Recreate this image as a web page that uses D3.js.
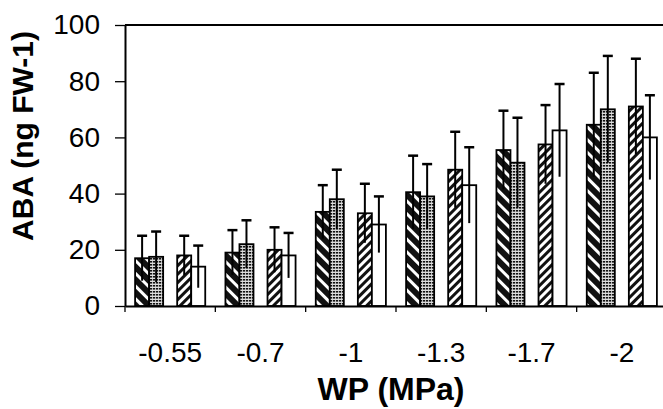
<!DOCTYPE html>
<html lang="en">
<head>
<meta charset="UTF-8">
<title>ABA vs WP</title>
<style>
  body { margin: 0; background: #fff; }
  svg { display: block; font-family: "Liberation Sans", Arial, sans-serif; }
</style>
</head>
<body>
<div id="chart"></div>
<script src="https://cdnjs.cloudflare.com/ajax/libs/d3/7.8.5/d3.min.js"></script>
<script>
  // values
  const categories = ["-0.55", "-0.7", "-1", "-1.3", "-1.7", "-2"];
  const seriesNames = ["s1", "s2", "s3", "s4"];
  const s1 = [17, 19, 33.5, 40.5, 55.5, 64.5];
  const s1Err = [8, 8, 9.5, 13, 14, 18.5];
  const s2 = [17.5, 22, 38, 39, 51, 70];
  const s2Err = [9, 8.5, 10.5, 11.5, 16, 19];
  const s3 = [18, 20, 33, 48.5, 57.5, 71];
  const s3Err = [7, 8, 10.5, 13.5, 14, 17];
  const s4 = [14, 18, 29, 43, 62.5, 60];
  const s4Err = [7.5, 8, 10, 13.5, 16.5, 15];
  const yTicks = [0, 20, 40, 60, 80, 100];

  const values = [s1, s2, s3, s4];
  const errors = [s1Err, s2Err, s3Err, s4Err];
  // slot order inside a group, with an empty slot between the two pairs
  const slots = ["s1", "s2", "gap", "s3", "s4"];

  const width = 663, height = 409;
  const plotLeft = 125, plotRight = 667, plotTop = 25, plotBottom = 306;

  const svg = d3.select('#chart')
    .append('svg')
    .attr('width', width)
    .attr('height', height);

  const defs = svg.append('defs');

  // dark bars with white "\" stripes
  const p1 = defs.append('pattern')
    .attr('id', 'pat1').attr('patternUnits', 'userSpaceOnUse')
    .attr('width', 9).attr('height', 9)
    .attr('patternTransform', 'rotate(-45)');
  p1.append('rect').attr('width', 9).attr('height', 9).attr('fill', '#111');
  p1.append('rect').attr('x', 0).attr('width', 3).attr('height', 9).attr('fill', '#fff');

  // fine dotted grey
  const p2 = defs.append('pattern')
    .attr('id', 'pat2').attr('patternUnits', 'userSpaceOnUse')
    .attr('width', 3).attr('height', 3);
  p2.append('rect').attr('width', 3).attr('height', 3).attr('fill', '#ddd');
  p2.append('rect').attr('width', 2.2).attr('height', 1.6).attr('fill', '#111');

  // black "/" hatch on white
  const p3 = defs.append('pattern')
    .attr('id', 'pat3').attr('patternUnits', 'userSpaceOnUse')
    .attr('width', 6).attr('height', 6)
    .attr('patternTransform', 'rotate(45)');
  p3.append('rect').attr('width', 6).attr('height', 6).attr('fill', '#fff');
  p3.append('rect').attr('width', 3).attr('height', 6).attr('fill', '#111');

  const fills = { s1: 'url(#pat1)', s2: 'url(#pat2)', s3: 'url(#pat3)', s4: '#fff' };

  const x0 = d3.scaleBand().domain(categories).range([plotLeft, plotRight]).padding(0);
  const x1 = d3.scaleBand().domain(slots).range([0, x0.bandwidth()]).paddingOuter(0.72);
  const y = d3.scaleLinear().domain([0, 100]).range([plotBottom, plotTop]);

  const rows = [];
  categories.forEach((c, i) => {
    seriesNames.forEach((s, j) => {
      rows.push({ cat: c, key: s, value: values[j][i], err: errors[j][i] });
    });
  });

  // frame line on top
  svg.append('line')
    .attr('x1', plotLeft).attr('x2', plotRight)
    .attr('y1', y(100)).attr('y2', y(100))
    .attr('stroke', '#000').attr('stroke-width', 2);

  const bars = svg.append('g');
  bars.selectAll('rect')
    .data(rows)
    .join('rect')
    .attr('x', d => x0(d.cat) + x1(d.key))
    .attr('y', d => y(d.value))
    .attr('width', x1.bandwidth())
    .attr('height', d => y(0) - y(d.value))
    .attr('fill', d => fills[d.key])
    .attr('stroke', '#000')
    .attr('stroke-width', 1.8);

  const errs = svg.append('g').attr('stroke', '#000');
  errs.selectAll('line.err')
    .data(rows)
    .join('line')
    .attr('class', 'err')
    .attr('x1', d => x0(d.cat) + x1(d.key) + x1.bandwidth() / 2)
    .attr('x2', d => x0(d.cat) + x1(d.key) + x1.bandwidth() / 2)
    .attr('y1', d => y(d.value - d.err))
    .attr('y2', d => y(d.value + d.err))
    .attr('stroke-width', 2);
  errs.selectAll('line.cap')
    .data(rows)
    .join('line')
    .attr('class', 'cap')
    .attr('x1', d => x0(d.cat) + x1(d.key) + x1.bandwidth() / 2 - 5)
    .attr('x2', d => x0(d.cat) + x1(d.key) + x1.bandwidth() / 2 + 5)
    .attr('y1', d => y(d.value + d.err))
    .attr('y2', d => y(d.value + d.err))
    .attr('stroke-width', 2.5);

  // y axis
  const yAxis = svg.append('g')
    .attr('transform', `translate(${plotLeft},0)`)
    .call(d3.axisLeft(y).tickValues(yTicks).tickSize(10).tickSizeOuter(0).tickPadding(15));
  yAxis.select('.domain').attr('stroke-width', 2);
  yAxis.selectAll('.tick line').attr('stroke-width', 1.3);
  yAxis.selectAll('.tick text')
    .attr('font-size', 28)
    .attr('font-family', '"Liberation Sans", Arial, sans-serif')
    .attr('fill', '#000');

  // x axis: labels at band centres, small ticks at band edges
  const xAxis = svg.append('g')
    .attr('transform', `translate(0,${plotBottom})`)
    .call(d3.axisBottom(x0).tickSize(0).tickSizeOuter(0).tickPadding(36));
  xAxis.select('.domain').attr('stroke-width', 2);
  xAxis.selectAll('.tick text')
    .attr('font-size', 28)
    .attr('font-family', '"Liberation Sans", Arial, sans-serif')
    .attr('fill', '#000');
  xAxis.selectAll('line.edge')
    .data(categories)
    .join('line')
    .attr('class', 'edge')
    .attr('x1', d => x0(d)).attr('x2', d => x0(d))
    .attr('y1', 0).attr('y2', 6)
    .attr('stroke', '#000').attr('stroke-width', 1.3);

  // axis titles
  svg.append('text')
    .attr('x', 391).attr('y', 400)
    .attr('text-anchor', 'middle')
    .attr('font-size', 32).attr('font-weight', 'bold')
    .text('WP (MPa)');

  svg.append('text')
    .attr('transform', 'translate(33,136) rotate(-90)')
    .attr('text-anchor', 'middle')
    .attr('font-size', 30).attr('font-weight', 'bold')
    .text('ABA (ng FW-1)');
</script>
</body>
</html>
